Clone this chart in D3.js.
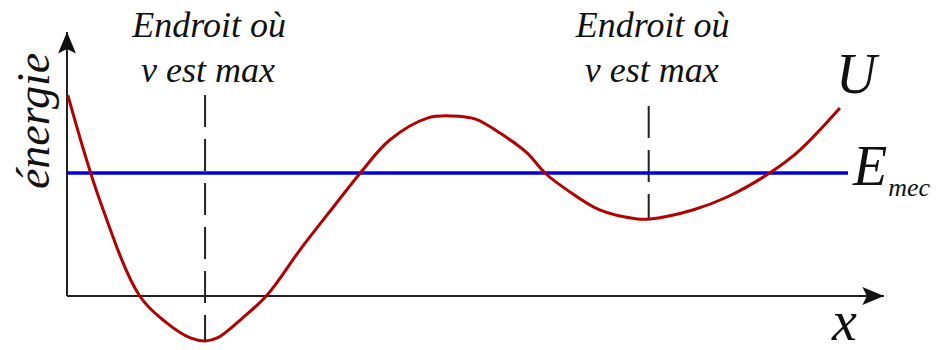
<!DOCTYPE html>
<html>
<head>
<meta charset="utf-8">
<script src="https://cdn.jsdelivr.net/npm/d3@7"></script>
</head>
<body style="margin:0">
<svg width="946" height="350" id="chart"></svg>
<script>
// potential energy curve U(x) (arbitrary units)
var posX = [0.01, 0.40, 0.89, 1.22, 1.51, 1.69, 1.84, 2.12, 2.45, 2.85, 3.26, 3.59, 3.95, 4.41, 4.71, 5.00, 5.30, 5.63, 5.85, 6.12, 6.52, 6.98, 7.14, 7.66, 8.08, 8.60, 8.97, 9.46];
var energyU = [7.61, 3.64, 0.00, -1.02, -1.59, -1.70, -1.59, -0.91, 0.04, 1.74, 3.37, 4.66, 5.91, 6.74, 6.82, 6.70, 6.17, 5.42, 4.66, 4.02, 3.26, 2.92, 2.92, 3.26, 3.75, 4.66, 5.53, 7.12];

// mechanical energy (constant)
var eMec = 4.66;
var eMecEnd = 9.56;

// places where v is max (minima of U), with the ends of the dashed marker
var vMaxX = [1.69, 7.12];
var vMaxTop = [7.61, 7.20];
var vMaxBottom = [-1.70, 2.95];
var vMaxLabel = [["Endroit où", "v est max"], ["Endroit où", "v est max"]];

// axis extents
var xAxisMax = 10;
var yAxisMax = 10;

var width = 946, height = 350;
var margin = {left: 67, right: 62, top: 32, bottom: 54};

var x = d3.scaleLinear().domain([0, xAxisMax]).range([margin.left, width - margin.right]);
var y = d3.scaleLinear().domain([0, yAxisMax]).range([height - margin.bottom, margin.top]);

var svg = d3.select("#chart");

// arrow head
svg.append("defs").append("marker")
    .attr("id", "arrow")
    .attr("viewBox", "0 0 24 20")
    .attr("refX", 24).attr("refY", 10)
    .attr("markerWidth", 24).attr("markerHeight", 18)
    .attr("markerUnits", "userSpaceOnUse")
    .attr("orient", "auto")
  .append("path")
    .attr("d", "M0,0 L24,10 L0,20 L5,10 Z")
    .attr("fill", "#111");

// axes
svg.append("line")
    .attr("x1", x(0)).attr("y1", y(0))
    .attr("x2", x(xAxisMax)).attr("y2", y(0))
    .attr("stroke", "#222").attr("stroke-width", 2)
    .attr("marker-end", "url(#arrow)");

svg.append("line")
    .attr("x1", x(0)).attr("y1", y(0))
    .attr("x2", x(0)).attr("y2", y(yAxisMax))
    .attr("stroke", "#222").attr("stroke-width", 2)
    .attr("marker-end", "url(#arrow)");

// labels helper
function label(tx, ty, size, str, anchor, rot) {
  return svg.append("text")
      .attr("x", rot ? 0 : tx).attr("y", rot ? 0 : ty)
      .attr("transform", rot ? "translate(" + tx + "," + ty + ") rotate(" + rot + ")" : null)
      .attr("text-anchor", anchor || "start")
      .attr("font-size", size)
      .style("font-family", "\"Liberation Serif\"", "important")
      .style("font-style", "italic")
      .attr("fill", "#111")
      .text(str);
}

// dashed markers + labels
vMaxX.forEach(function(v, i) {
  svg.append("line")
      .attr("x1", x(v)).attr("x2", x(v))
      .attr("y1", y(vMaxTop[i])).attr("y2", y(vMaxBottom[i]))
      .attr("stroke", "#222").attr("stroke-width", 2)
      .attr("stroke-dasharray", "32,12");

  label(x(v) + 4, 37, 36, vMaxLabel[i][0], "middle");
  label(x(v) + 3, 82, 36, vMaxLabel[i][1], "middle");
});

// E mec line
svg.append("line")
    .attr("x1", x(0)).attr("x2", x(eMecEnd))
    .attr("y1", y(eMec)).attr("y2", y(eMec))
    .attr("stroke", "#0000dd").attr("stroke-width", 3.5);

// U curve
var data = posX.map(function(d, i) { return {x: d, u: energyU[i]}; });
var line = d3.line()
    .x(function(d) { return x(d.x); })
    .y(function(d) { return y(d.u); })
    .curve(d3.curveCatmullRom.alpha(0.5));

svg.append("path")
    .datum(data)
    .attr("d", line)
    .attr("fill", "none")
    .attr("stroke", "#b30000")
    .attr("stroke-width", 3);

label(49, 121, 46, "énergie", "middle", -90);

label(836, 93, 56, "U");

var em = label(853, 185, 56, "E");
em.append("tspan").attr("font-size", 26).attr("dy", 11).attr("dx", 1).text("mec");

label(832, 340, 56, "x");
</script>
</body>
</html>
